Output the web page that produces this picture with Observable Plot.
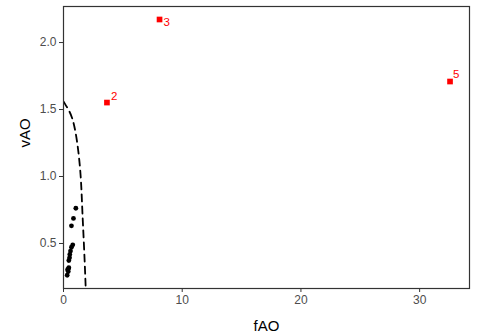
<!DOCTYPE html>
<html>
<head>
<meta charset="utf-8">
<script src="https://cdn.jsdelivr.net/npm/d3@7"></script>
<script src="https://cdn.jsdelivr.net/npm/@observablehq/plot@0.6"></script>
<style>
  html, body { margin: 0; padding: 0; background: #fff; }
  svg { display: block; }
</style>
</head>
<body>
<div id="chart"></div>
<script>
// Black points (fAO, vAO)
const dotX = [1.04, 0.84, 0.67, 0.78, 0.67, 0.59, 0.53, 0.51, 0.45, 0.45, 0.42, 0.34, 0.40, 0.31];
const dotY = [0.763, 0.687, 0.632, 0.490, 0.472, 0.443, 0.418, 0.393, 0.373, 0.319, 0.313, 0.304, 0.291, 0.263];

// Red labelled squares
const redLabel = ["2", "3", "5"];
const redX = [3.66, 8.09, 32.56];
const redY = [1.552, 2.172, 1.709];

// Dashed boundary curve
const curveX = [0.00, 0.20, 0.45, 0.73, 1.01, 1.29, 1.49, 1.58, 1.71, 1.85, 1.87];
const curveY = [1.560, 1.530, 1.495, 1.443, 1.343, 1.172, 0.970, 0.746, 0.522, 0.224, 0.164];

const xTicks = [0, 10, 20, 30];
const yTicks = [0.5, 1.0, 1.5, 2.0];

const dots = dotX.map((x, i) => ({x, y: dotY[i]}));
const reds = redX.map((x, i) => ({x, y: redY[i], label: redLabel[i]}));
const curve = curveX.map((x, i) => ({x, y: curveY[i]}));

// label offsets (layout only)
const labelOffsets = {"2": [4, -6], "3": [4, 3], "5": [3, -7]};

const font = "Liberation Sans, Arial, Helvetica, sans-serif";

const plot = Plot.plot({
  width: 491,
  height: 336,
  marginLeft: 63,
  marginRight: 22,
  marginTop: 6,
  marginBottom: 48,
  style: {fontFamily: font, background: "#fff"},
  x: {domain: [0, 34.2], ticks: xTicks, tickFormat: d => String(d)},
  y: {domain: [0.164, 2.269], ticks: yTicks, tickFormat: d3.format(".1f")},
  marks: [
    Plot.axisX({ticks: xTicks, tickFormat: d => String(d), tickSize: 4, tickPadding: 3, fontSize: 12, color: "#4d4d4d", stroke: "#333", label: null}),
    Plot.axisY({ticks: yTicks, tickFormat: d3.format(".1f"), tickSize: 4, tickPadding: 3, fontSize: 12, color: "#4d4d4d", stroke: "#333", label: null}),
    Plot.text(["fAO"], {frameAnchor: "bottom", dy: 42, text: d => d, fontSize: 15, fill: "#000"}),
    Plot.text(["vAO"], {frameAnchor: "left", dx: -38, rotate: -90, text: d => d, fontSize: 15, fill: "#000"}),
    Plot.line(curve, {x: "x", y: "y", curve: "basis", stroke: "#000", strokeWidth: 1.8, strokeDasharray: "7,5", clip: true}),
    Plot.dot(dots, {x: "x", y: "y", r: 2.4, fill: "#000", stroke: "none"}),
    Plot.dot(reds, {x: "x", y: "y", symbol: "square", r: 3.2, fill: "#ff0000", stroke: "none"}),
    ...redLabel.map(l => Plot.text(reds.filter(d => d.label === l), {
      x: "x", y: "y", text: "label", fill: "#ff0000", fontSize: 11.5,
      textAnchor: "start", dx: labelOffsets[l][0], dy: labelOffsets[l][1]
    })),
    Plot.frame({stroke: "#333", strokeWidth: 1.2})
  ]
});
document.getElementById("chart").appendChild(plot);
</script>
</body>
</html>
